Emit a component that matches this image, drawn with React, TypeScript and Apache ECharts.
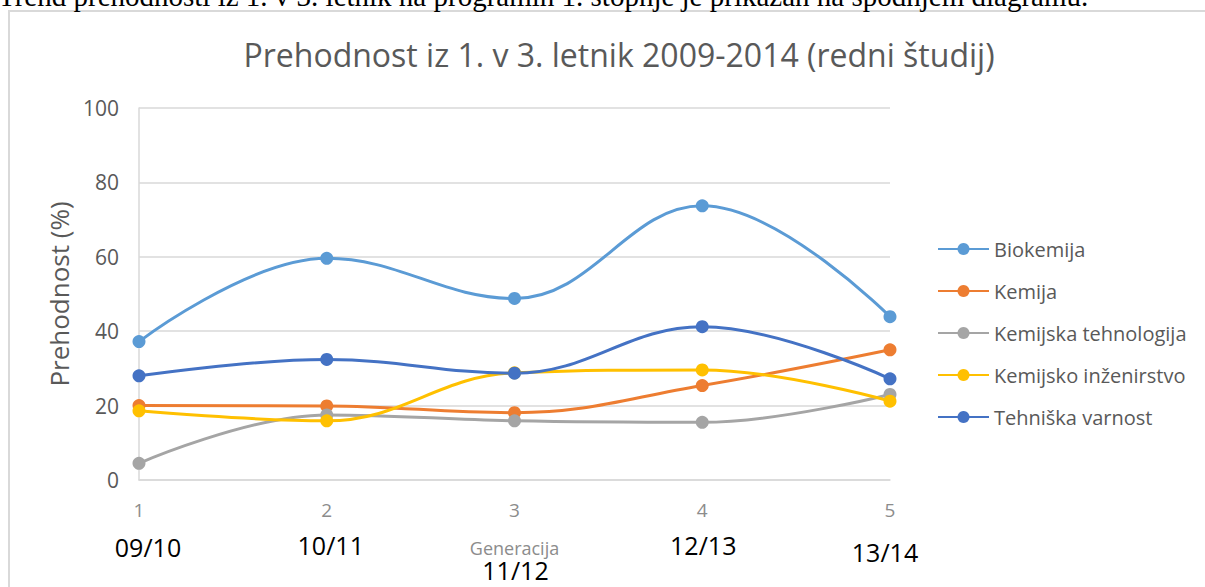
import React, { useEffect, useRef } from "react";
import * as echarts from "echarts";

const xTicks = ["1", "2", "3", "4", "5"];
const generations = ["09/10", "10/11", "11/12", "12/13", "13/14"];
const seriesNames = [
  "Biokemija",
  "Kemija",
  "Kemijska tehnologija",
  "Kemijsko inženirstvo",
  "Tehniška varnost",
];
const biokemija = [37.2, 59.6, 48.8, 73.7, 43.9];
const kemija = [20.0, 19.9, 18.1, 25.4, 35.0];
const kemijskaTehnologija = [4.5, 17.5, 15.9, 15.5, 23.0];
const kemijskoInzenirstvo = [18.6, 15.9, 28.8, 29.6, 21.2];
const tehniskaVarnost = [28.0, 32.4, 28.7, 41.2, 27.2];
const colors = ["#5B9BD5", "#ED7D31", "#A5A5A5", "#FFC000", "#4472C4"];

// layout for the overlaid generation labels (dx from tick, y center)
const genLayout = [
  { dx: 9, y: 547 },
  { dx: 4, y: 545 },
  { dx: 1, y: 570 },
  { dx: 1, y: 545 },
  { dx: -5, y: 552 },
];

export default function App() {
  const ref = useRef<HTMLDivElement>(null);
  useEffect(() => {
    if (!ref.current) return;
    const chart = echarts.init(ref.current, undefined, { renderer: "svg" });
    const values = [biokemija, kemija, kemijskaTehnologija, kemijskoInzenirstvo, tehniskaVarnost];
    const font = '"Open Sans", sans-serif';
    chart.setOption({
      animation: false,
      color: colors,
      title: {
        text: "Prehodnost iz 1. v 3. letnik 2009-2014 (redni študij)",
        left: 614,
        top: 33,
        textAlign: "center",
        textStyle: { fontFamily: font, fontSize: 32, fontWeight: "normal", color: "#595959" },
      },
      grid: { left: 139, right: 315, top: 108, bottom: 107 },
      xAxis: {
        type: "category",
        data: xTicks,
        boundaryGap: false,
        axisLine: { lineStyle: { color: "#d9d9d9", width: 1.5 } },
        axisTick: { show: false },
        axisLabel: { color: "#8c8c8c", fontFamily: font, fontSize: 19, margin: 20 },
        splitLine: { show: false },
      },
      yAxis: {
        type: "value",
        min: 0,
        max: 100,
        interval: 20,
        name: "Prehodnost (%)",
        nameLocation: "middle",
        nameGap: 65,
        nameTextStyle: { color: "#595959", fontFamily: font, fontSize: 26 },
        axisLine: { show: true, lineStyle: { color: "#d9d9d9", width: 1.5 } },
        axisTick: { show: false },
        axisLabel: { color: "#595959", fontFamily: font, fontSize: 21, margin: 20 },
        splitLine: { lineStyle: { color: "#d9d9d9", width: 1.5 } },
      },
      legend: {
        orient: "vertical",
        left: 932,
        top: 234,
        itemWidth: 51,
        itemHeight: 15,
        itemGap: 22,
        textStyle: { color: "#595959", fontFamily: font, fontSize: 20 },
        data: seriesNames,
      },
      series: seriesNames.map((name, i) => ({
        name,
        type: "line",
        data: values[i],
        smooth: 0.4,
        symbol: "circle",
        symbolSize: 13,
        lineStyle: { width: 3, color: colors[i] },
        itemStyle: { color: colors[i] },
      })),
    });
    const gens = generations.map((g, i) => {
      const px = chart.convertToPixel({ xAxisIndex: 0 }, i) as number;
      return {
        type: "text",
        x: px + genLayout[i].dx,
        y: genLayout[i].y,
        style: {
          text: g,
          font: '25px "Open Sans", sans-serif',
          fill: "#000",
          align: "center",
          verticalAlign: "middle",
        },
      };
    });
    const px3 = chart.convertToPixel({ xAxisIndex: 0 }, 2) as number;
    chart.setOption({
      graphic: [
        {
          type: "rect",
          shape: { x: 9, y: 11, width: 1400, height: 800 },
          style: { fill: "none", stroke: "#d9d9d9", lineWidth: 2 },
          silent: true,
        },
        {
          type: "text",
          x: -2,
          y: 10,
          style: {
            text: "Trend prehodnosti iz 1. v 3. letnik na programih 1. stopnje je prikazan na spodnjem diagramu.",
            font: '29px "Liberation Serif", serif',
            fill: "#000",
            verticalAlign: "bottom",
          },
        },
        {
          type: "text",
          x: px3,
          y: 548,
          style: {
            text: "Generacija",
            font: '18px "Open Sans", sans-serif',
            fill: "#8c8c8c",
            align: "center",
            verticalAlign: "middle",
          },
        },
        ...gens,
      ],
    });
    return () => chart.dispose();
  }, []);
  return (
    <div
      ref={ref}
      style={{ position: "absolute", left: 0, top: 0, width: 1205, height: 587, background: "#fff" }}
    />
  );
}
